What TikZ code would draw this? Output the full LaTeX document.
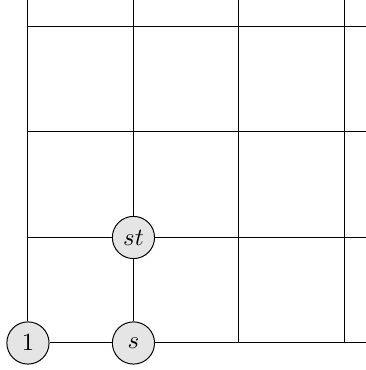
\documentclass[tikz,border=0pt]{standalone}
\usepackage{amsmath,amssymb}
\usepackage{tikz}

\begin{document}
\begin{tikzpicture}[x=1.5cm, y=1.5cm,
  vertex/.style={circle, draw, fill=black!10, minimum size=6mm, inner sep=0pt}]
\useasboundingbox (-0.265,-0.256) rectangle (3.204,3.251);

\node[vertex] (one) at (0,0) {$1$};
\node[vertex] (s) at (1,0) {$s$};
\node[vertex] (st) at (1,1) {$st$};

% free ends of the grid lines
\coordinate (right0) at (3.3,0);
\coordinate (right1) at (3.3,1);
\coordinate (left1) at (0,1);
\coordinate (top0) at (0,3.3);
\coordinate (top1) at (1,3.3);

\draw (one) -- (s);
\draw (s) -- (right0);
\draw (one) -- (top0);
\draw (s) -- (st);
\draw (st) -- (top1);
\draw (left1) -- (st);
\draw (st) -- (right1);

\foreach \i in {2,3} {
  \draw (\i,0) -- (\i,3.3);
  \draw (0,\i) -- (3.3,\i);
}

\end{tikzpicture}
\end{document}
